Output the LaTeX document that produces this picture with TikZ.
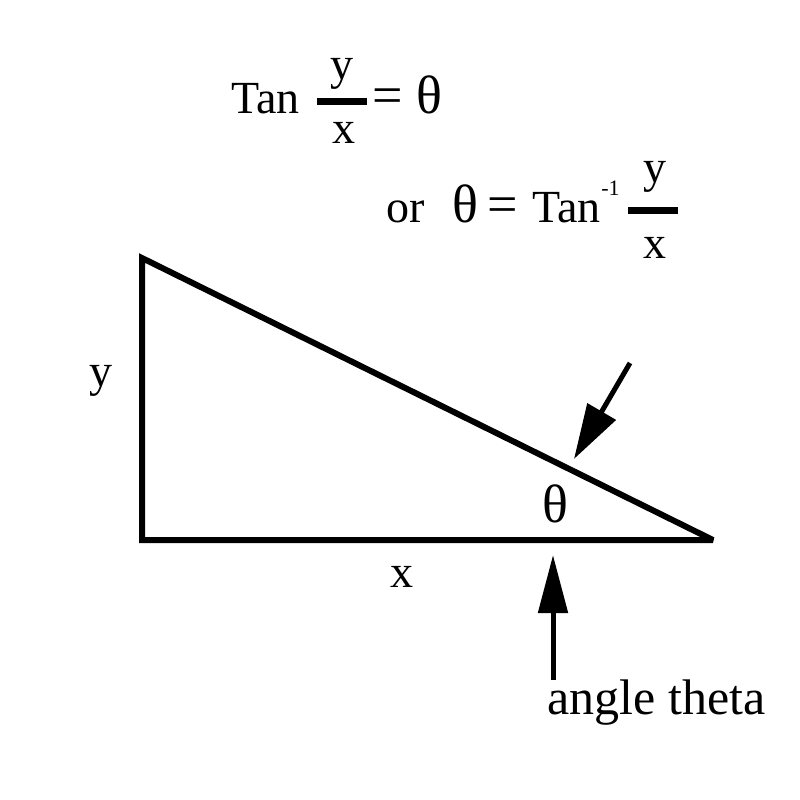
\documentclass[tikz,border=0pt]{standalone}
\usepackage{fontspec}
\setmainfont{Liberation Serif}
\usetikzlibrary{arrows.meta}
\begin{document}
\begin{tikzpicture}[x=0.5pt,y=-0.5pt,
  txt/.style={inner sep=0pt, font=\fontsize{23}{27}\selectfont},
  thtxt/.style={inner sep=0pt, font=\fontsize{27}{31}\selectfont},
  eqtxt/.style={inner sep=0pt, font=\fontsize{27}{31}\selectfont},
  bigtxt/.style={inner sep=0pt, font=\fontsize{25}{29}\selectfont},
  suptxt/.style={inner sep=0pt, font=\fontsize{11}{13}\selectfont},
  edge/.style={line width=3pt, line join=miter, miter limit=3},
  fracbar/.style={line width=3.5pt},
  pointer/.style={line width=2.5pt}]
\useasboundingbox (0,0) rectangle (800,800);
% triangle
\coordinate (A) at (142,258);
\coordinate (B) at (142,540);
\coordinate (C) at (713,540);
\draw[edge] (A) -- (B) -- (C) -- cycle;
% first formula
\node[txt, anchor=base west] (tan1) at (231,113) {Tan};
\coordinate (b1l) at (317,101.5);
\coordinate (b1r) at (367,101.5);
\draw[fracbar] (b1l) -- (b1r);
\node[txt, anchor=base] (y1) at (342,79) {y};
\node[txt, anchor=base] (x1) at (344,143) {x};
\node[eqtxt, anchor=base west] (eq1) at (372,113) {=};
\node[thtxt, anchor=base] (th1) at (429,113) {θ};
% second formula
\node[txt, anchor=base west] (or) at (386,222) {or};
\node[thtxt, anchor=base] (th2) at (465,222) {θ};
\node[eqtxt, anchor=base west] (eq2) at (487,222) {=};
\node[txt, anchor=base west] (tan2) at (532,222) {Tan};
\node[suptxt, anchor=base west] (m1) at (601,195) {-1};
\coordinate (b2l) at (628,210);
\coordinate (b2r) at (678,210);
\draw[fracbar] (b2l) -- (b2r);
\node[txt, anchor=base] (y2) at (655,182) {y};
\node[txt, anchor=base] (x2) at (655,258) {x};
% labels
\node[txt, anchor=base] (ylab) at (101,386) {y};
\node[txt, anchor=base] (xlab) at (402,587) {x};
\node[thtxt, anchor=base] (thlab) at (555,522) {θ};
\node[bigtxt, anchor=base west] (angle) at (547,714) {angle theta};
% arrows
\coordinate (p1s) at (630,363);
\coordinate (p1e) at (574,459);
\draw[pointer, -{Triangle[length=27.5pt,width=16pt]}] (p1s) -- (p1e);
\coordinate (p2s) at (553,680);
\coordinate (p2e) at (553,555);
\draw[pointer, -{Triangle[length=29pt,width=14.5pt]}] (p2s) -- (p2e);
\end{tikzpicture}
\end{document}
